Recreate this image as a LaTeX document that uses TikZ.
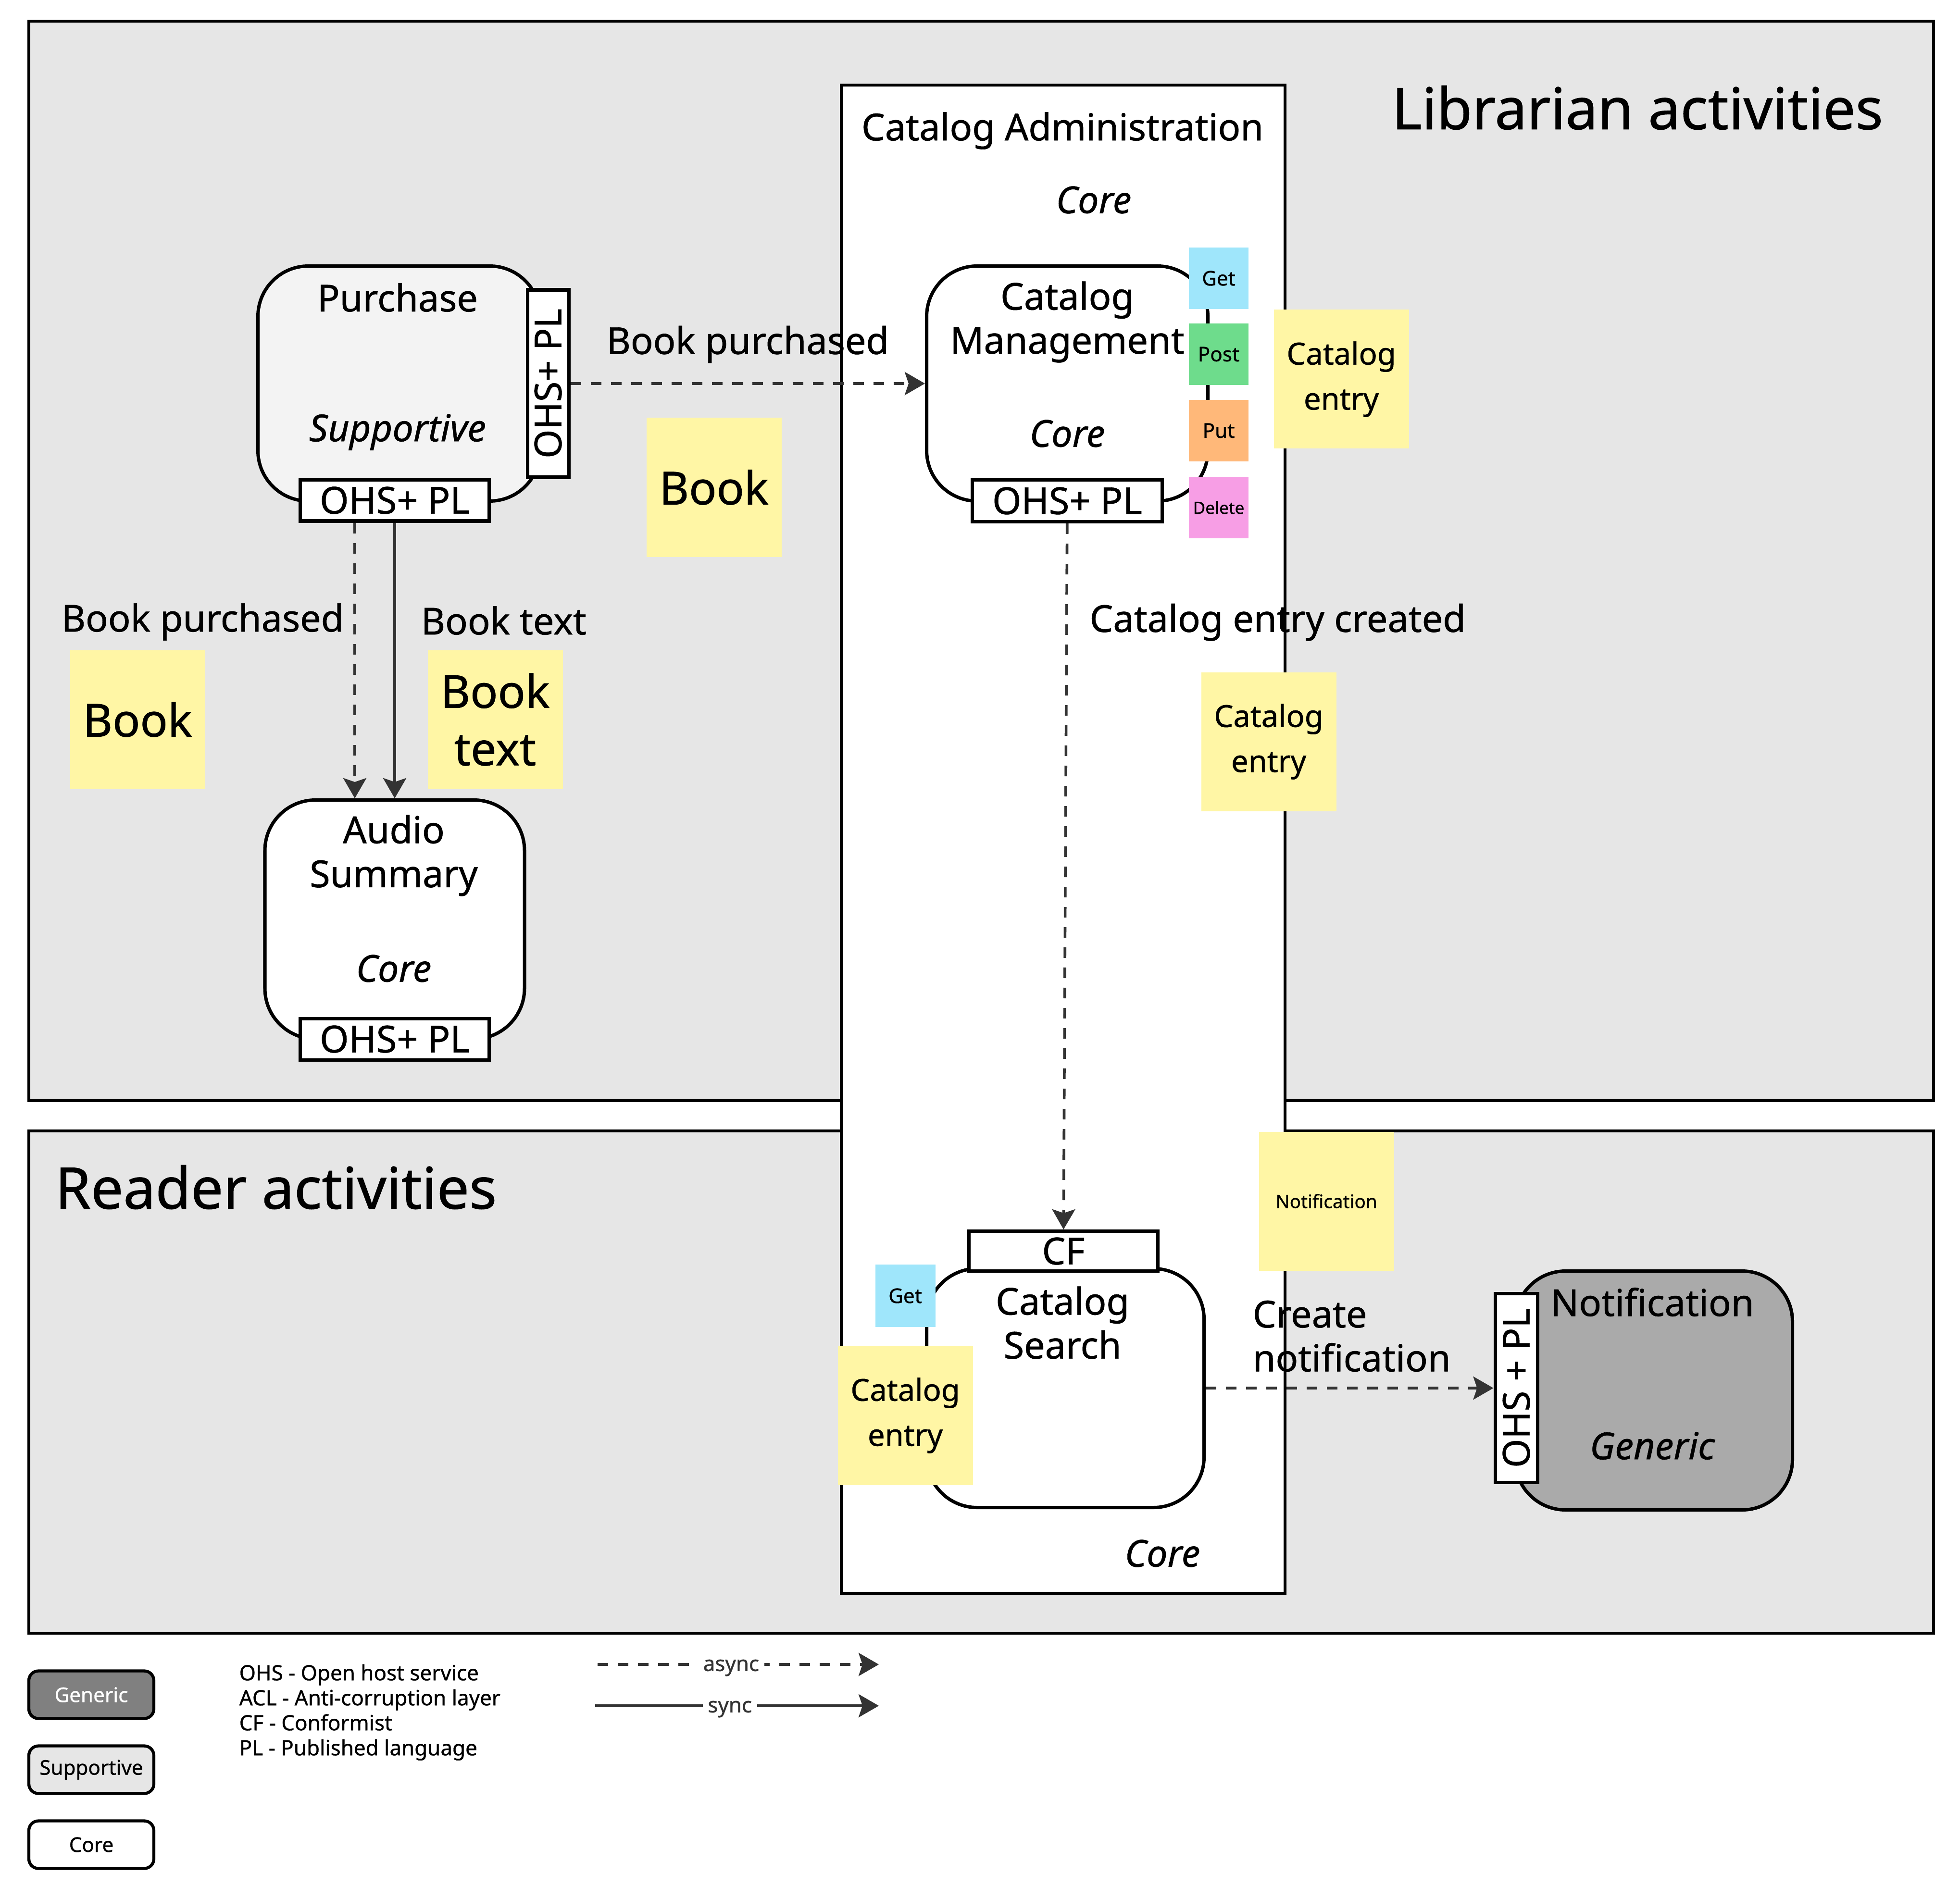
\documentclass[tikz,border=0pt]{standalone}
\usepackage{fontspec}
\setmainfont{Noto Sans}[FakeBold=0.8]
\usepackage{tikz}
\usetikzlibrary{arrows.meta, positioning}

\definecolor{regiongray}{HTML}{E6E6E6}
\definecolor{supgray}{HTML}{F3F3F3}
\definecolor{gengray}{HTML}{AAAAAA}
\definecolor{leggray}{HTML}{808080}
\definecolor{linegray}{HTML}{333333}
\definecolor{stickyyellow}{HTML}{FFF6A5}
\definecolor{getblue}{HTML}{9FE6FB}
\definecolor{postgreen}{HTML}{6EDC8C}
\definecolor{putorange}{HTML}{FFB879}
\definecolor{delpink}{HTML}{F79EE5}

\newcommand{\titlesize}{\fontsize{34}{40}\selectfont}
\newcommand{\mainsize}{\fontsize{22}{26}\selectfont}
\newcommand{\legsize}{\fontsize{12.5}{14.8}\selectfont}

\begin{document}
\begin{tikzpicture}[>={Stealth[length=0.42cm, width=0.48cm, inset=0.08cm]},
    region/.style={draw=black, line width=1.5pt, fill=regiongray},
    ctxbox/.style={draw=black, line width=2pt, rounded corners=1.05cm, inner sep=0pt},
    ohsbox/.style={draw=black, line width=2pt, fill=white, inner sep=0pt, font=\mainsize},
    lbl/.style={inner sep=0pt, font=\mainsize, align=center},
    sticky/.style={fill=stickyyellow, inner sep=0pt, minimum width=2.81cm, minimum height=2.89cm, align=center},
    verb/.style={inner sep=0pt, minimum width=1.24cm, minimum height=1.28cm, font=\fontsize{12}{14}\selectfont},
    legbox/.style={draw=black, line width=1.8pt, rounded corners=0.2cm, minimum width=2.6cm, minimum height=0.99cm, inner sep=0pt, font=\fontsize{12}{14}\selectfont},
    async/.style={->, draw=linegray, line width=1.6pt, dash pattern=on 0.22cm off 0.2cm},
    sync/.style={->, draw=linegray, line width=1.6pt}]

  \useasboundingbox[fill=white] (0,0) rectangle (40.77,-39.24);

  % the two activity regions
  \draw[region] (0.60,-0.44) rectangle (40.22,-22.90);
  \draw[region] (0.60,-23.53) rectangle (40.22,-33.98);
  \node[font=\titlesize, inner sep=0pt] (libtitle) at (34.06,-2.24) {Librarian activities};
  \node[font=\titlesize, inner sep=0pt, anchor=west] (readtitle) at (1.14,-24.70) {Reader activities};

  % catalog administration
  \draw[line width=1.8pt, fill=white] (17.50,-1.77) rectangle (26.73,-33.15);
  \node[lbl] (admintitle) at (22.10,-2.72) {Catalog Administration};
  \node[lbl, font=\mainsize\itshape] (admincore) at (22.75,-4.16) {Core};
  \node[lbl, font=\mainsize\itshape] (admincoreb) at (24.18,-32.32) {Core};

  % purchase
  \node[ctxbox, fill=supgray, minimum width=5.87cm, minimum height=4.89cm] (purchase) at (8.30,-7.98) {};
  \node[lbl] (purchasetitle) at (8.27,-6.19) {Purchase};
  \node[lbl, font=\mainsize\itshape] (purchasetype) at (8.27,-8.99) {Supportive};
  \node[ohsbox, rotate=90, minimum width=3.90cm, minimum height=0.86cm] (purchaseside) at (11.40,-7.98) {OHS+ PL};
  \node[ohsbox, minimum width=3.93cm, minimum height=0.86cm] (purchaseohs) at (8.21,-10.41) {OHS+ PL};

  % catalog management
  \node[ctxbox, fill=white, minimum width=5.85cm, minimum height=4.89cm] (catmgmt) at (22.20,-7.98) {};
  \node[lbl] (catmgmttitle) at (22.20,-6.70) {Catalog\\Management};
  \node[lbl, font=\mainsize\itshape] (catmgmttype) at (22.20,-9.02) {Core};
  \node[ohsbox, minimum width=3.95cm, minimum height=0.87cm] (catmgmtohs) at (22.20,-10.42) {OHS+ PL};
  \node[verb, fill=getblue] (mgmtget) at (25.35,-5.79) {Get};
  \node[verb, fill=postgreen] (mgmtpost) at (25.35,-7.37) {Post};
  \node[verb, fill=putorange] (mgmtput) at (25.35,-8.96) {Put};
  \node[verb, fill=delpink, font=\fontsize{10}{12}\selectfont] (mgmtdel) at (25.35,-10.56) {Delete};

  % audio summary
  \node[ctxbox, fill=white, minimum width=5.40cm, minimum height=4.97cm] (audio) at (8.21,-19.13) {};
  \node[lbl] (audiotitle) at (8.19,-17.80) {Audio\\Summary};
  \node[lbl, font=\mainsize\itshape] (audiotype) at (8.19,-20.15) {Core};
  \node[ohsbox, minimum width=3.93cm, minimum height=0.86cm] (audioohs) at (8.21,-21.62) {OHS+ PL};

  % catalog search
  \node[ctxbox, fill=white, minimum width=5.77cm, minimum height=4.97cm] (catsearch) at (22.16,-28.88) {};
  \node[lbl] (catsearchtitle) at (22.10,-27.52) {Catalog\\Search};
  \node[ohsbox, minimum width=3.93cm, minimum height=0.83cm] (cf) at (22.12,-26.03) {CF};
  \node[verb, fill=getblue, minimum width=1.25cm, minimum height=1.30cm] (searchget) at (18.83,-26.96) {Get};

  % notification
  \node[ctxbox, fill=gengray, minimum width=5.77cm, minimum height=4.97cm] (notif) at (34.40,-28.93) {};
  \node[lbl] (notiftitle) at (34.37,-27.09) {Notification};
  \node[lbl, font=\mainsize\itshape] (notiftype) at (34.37,-30.08) {Generic};
  \node[ohsbox, rotate=90, minimum width=3.93cm, minimum height=0.88cm] (notifohs) at (31.54,-28.88) {OHS + PL};

  % stickies
  \node[sticky, font=\fontsize{27}{34}\selectfont] (stbook) at (14.85,-10.14) {Book};
  \node[sticky, font=\fontsize{27}{34}\selectfont] (stbookl) at (2.86,-14.97) {Book};
  \node[sticky, font=\fontsize{27}{34}\selectfont] (stbooktext) at (10.30,-14.97) {Book\\text};
  \node[sticky, font=\fontsize{18}{26.7}\selectfont] (stentrya) at (27.90,-7.89) {Catalog\\entry};
  \node[sticky, font=\fontsize{18}{26.7}\selectfont] (stentryb) at (26.39,-15.43) {Catalog\\entry};
  \node[sticky, font=\fontsize{18}{26.7}\selectfont] (stentryc) at (18.83,-29.45) {Catalog\\entry};
  \node[sticky, font=\fontsize{11}{13}\selectfont] (stnotif) at (27.59,-24.99) {Notification};

  % connectors
  \draw[async] (purchaseside) -- node[lbl, above=0.40cm] {Book purchased} (catmgmt);
  \draw[async] ([xshift=-0.83cm]purchaseohs.south) -- node[lbl, pos=0.36, anchor=east, xshift=-0.2cm] {Book purchased} ([xshift=-0.83cm]audio.north);
  \draw[sync] (purchaseohs) -- node[lbl, pos=0.355, anchor=west, xshift=0.52cm] {Book text} (audio);
  \draw[async] (catmgmtohs) -- node[lbl, pos=0.14, anchor=west, xshift=0.45cm] {Catalog entry created} (cf);
  \draw[async] (catsearch) -- (notifohs);
  \node[lbl, anchor=west, align=left] (createlbl) at (26.05,-27.80) {Create\\notification};

  % legend
  \node[legbox, fill=leggray, text=white] (leggen) at (1.90,-35.26) {Generic};
  \node[legbox, fill=regiongray] (legsup) at (1.90,-36.82) {Supportive};
  \node[legbox, fill=white] (legcore) at (1.90,-38.38) {Core};
  \node[inner sep=0pt, anchor=north west, align=left, font=\legsize] (abbrev) at (4.97,-34.62)
    {OHS - Open host service\\ACL - Anti-corruption layer\\CF - Conformist\\PL - Published language};
  \coordinate (asyncA) at (12.43,-34.63);
  \coordinate (asyncB) at (18.28,-34.63);
  \coordinate (syncA) at (12.38,-35.49);
  \coordinate (syncB) at (18.28,-35.49);
  \draw[async] (asyncA) -- node[pos=0.475, fill=white, inner sep=3pt, yshift=-2pt, text=linegray, font=\legsize] {async} (asyncB);
  \draw[sync] (syncA) -- node[pos=0.475, fill=white, inner sep=3pt, yshift=-2pt, text=linegray, font=\legsize] {sync} (syncB);
\end{tikzpicture}
\end{document}
